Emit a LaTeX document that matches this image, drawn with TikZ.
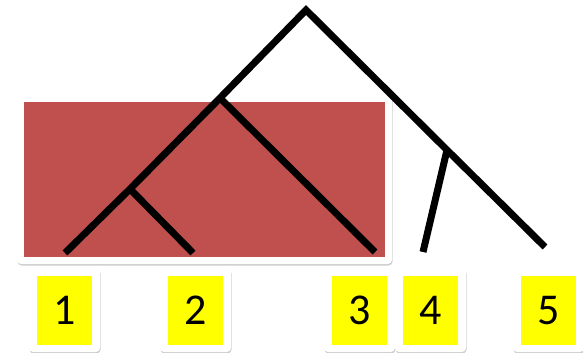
\documentclass[tikz,border=0pt]{standalone}
\usepackage{fontspec}
\setmainfont{Carlito}
\usetikzlibrary{shadows}
\definecolor{boxred}{RGB}{192,80,77}
\definecolor{lblyellow}{RGB}{255,255,0}
\begin{document}
\begin{tikzpicture}[x=1pt,y=-1pt,
  frame/.style={fill=white,rounded corners=4pt,drop shadow={opacity=0.4,shadow xshift=0.5pt,shadow yshift=-1.5pt}},
  lbl/.style={fill=lblyellow,minimum width=55pt,minimum height=69pt,inner sep=0pt,font=\fontsize{44}{44}\selectfont},
  branch/.style={line width=7pt,line join=miter,black}]
\useasboundingbox (0,0) rectangle (583,353);
% highlighted clade frame
\path[frame] (17,95) rectangle (392,264);
\fill[boxred] (24,102) rectangle (385,257);
% label frames
\foreach \xa in {29,160,324,395,513}{
  \path[frame] (\xa,268) rectangle ++(71,84);
}
\node[lbl] (l1) at (64.5,310.5) {1};
\node[lbl] (l2) at (195.5,310.5) {2};
\node[lbl] (l3) at (359.5,310.5) {3};
\node[lbl] (l4) at (430.5,310.5) {4};
\node[lbl] (l5) at (548.5,310.5) {5};
% tree coordinates
\coordinate (root) at (306,10);
\coordinate (n123) at (220,98);
\coordinate (n12) at (130,189);
\coordinate (n45) at (447,150);
\coordinate (t1) at (65,253);
\coordinate (t2) at (193,253);
\coordinate (t3) at (375,252);
\coordinate (t4) at (423,252);
\coordinate (t5) at (545,247);
% tree
\draw[branch] (t1) -- (n12) -- (n123) -- (root) -- (n45) -- (t5);
\draw[branch] (n12) -- (t2);
\draw[branch] (n123) -- (t3);
\draw[branch] (n45) -- (t4);
\end{tikzpicture}
\end{document}
